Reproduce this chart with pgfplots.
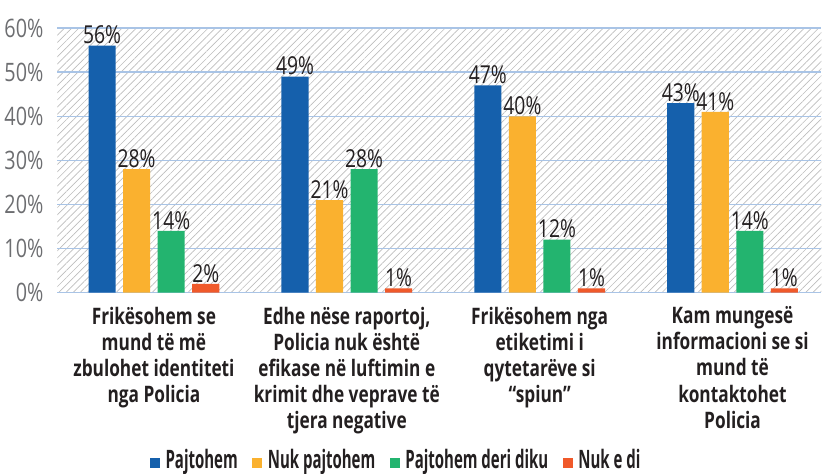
\documentclass[border=0pt]{standalone}
\usepackage{fontspec}
\setmainfont{Open Sans}[FakeStretch=0.78, BoldFeatures={FakeStretch=0.76}]
\newfontfamily\legfont{Open Sans}[FakeStretch=0.59]
\usepackage{pgfplots}
\pgfplotsset{compat=1.18}
\usetikzlibrary{patterns.meta}
\definecolor{cblue}{HTML}{1560AC}
\definecolor{corange}{HTML}{FAB12F}
\definecolor{cgreen}{HTML}{23B46F}
\definecolor{cred}{HTML}{F0592A}
\definecolor{gridblue}{HTML}{A9C4E6}
\definecolor{tickgray}{HTML}{6D6E71}
\definecolor{textdark}{HTML}{231F20}
\definecolor{hatch}{HTML}{BDBDBD}

\begin{document}
\begin{tikzpicture}
\begin{axis}[
    scale only axis,
    width=571.5pt,
    height=198pt,
    ybar=5.6pt,
    bar width=20.25pt,
    xmin=-0.5, xmax=3.46,
    ymin=0, ymax=60,
    xtick={0,1,2,3},
    xticklabels={
        {Frikësohem se\\mund të më\\zbulohet identiteti\\nga Policia},
        {Edhe nëse raportoj,\\Policia nuk është\\efikase në luftimin e\\krimit dhe veprave të\\tjera negative},
        {Frikësohem nga\\etiketimi i\\qytetarëve si\\“spiun”},
        {Kam mungesë\\informacioni se si\\mund të\\kontaktohet\\Policia}},
    xticklabel style={align=center, font=\fontsize{17}{19.5}\selectfont\bfseries, text=textdark, yshift=-7pt},
    ytick={0,10,...,60},
    yticklabel={\pgfmathprintnumber{\tick}\%},
    /pgf/number format/assume math mode=true,
    yticklabel style={font=\fontsize{19}{20}\selectfont, text=tickgray, xshift=-7pt},
    major tick length=0pt,
    axis line style={draw=none},
    ymajorgrids,
    grid style={color=gridblue, line width=1.1pt},
    axis background/.style={pattern={Lines[angle=45,distance=3.8pt,line width=0.5pt]}, pattern color=hatch},
    nodes near coords={\pgfmathprintnumber{\pgfplotspointmeta}\%},
    nodes near coords style={font=\fontsize{18.5}{20}\selectfont, text=textdark, inner sep=1pt},
    clip=false,
    legend columns=4,
    legend style={at={(0.5,0)}, anchor=north, xshift=-32pt, yshift=-115pt, draw=none, fill=none,
        font=\fontsize{19}{20}\legfont\bfseries, text=textdark, inner sep=0pt,
        /tikz/every odd column/.append style={column sep=2pt},
        /tikz/every even column/.append style={column sep=9pt}},
    legend image code/.code={\fill[#1] (0pt,-6pt) rectangle (7.5pt,1.5pt);},
]
\addplot[fill=cblue, draw=none] coordinates {(0,56) (1,49) (2,47) (3,43)};
\addplot[fill=corange, draw=none] coordinates {(0,28) (1,21) (2,40) (3,41)};
\addplot[fill=cgreen, draw=none] coordinates {(0,14) (1,28) (2,12) (3,14)};
\addplot[fill=cred, draw=none] coordinates {(0,2) (1,1) (2,1) (3,1)};
\legend{Pajtohem, Nuk pajtohem, Pajtohem deri diku, Nuk e di}
\path (rel axis cs:0.5,1) ++(0,21pt);
\end{axis}
\end{tikzpicture}
\end{document}
